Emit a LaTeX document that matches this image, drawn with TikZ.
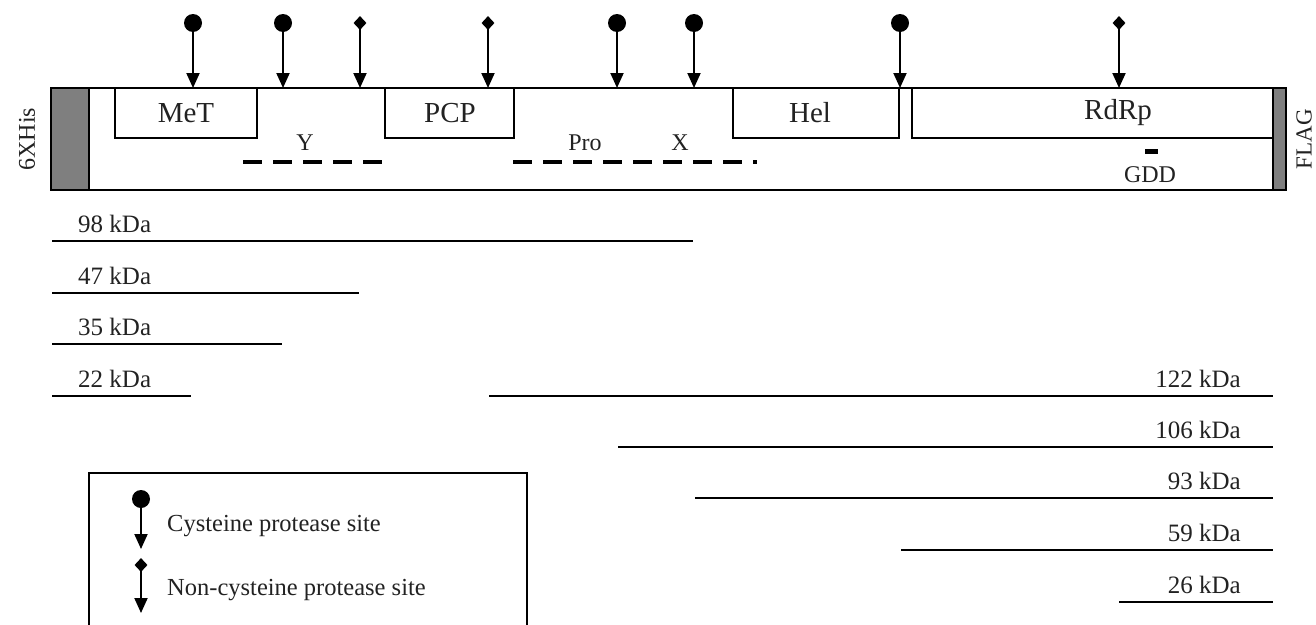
\documentclass[tikz,border=0pt]{standalone}
\usepackage{fontspec}
\setmainfont{Liberation Serif}
\usetikzlibrary{arrows.meta,shapes.geometric}
\definecolor{tagfill}{HTML}{7F7F7F}
\definecolor{txt}{HTML}{222222}
\begin{document}
\begin{tikzpicture}[x=1pt,y=-1pt,
  frame/.style={draw=black,line width=1.6pt},
  tagbox/.style={draw=black,line width=1.6pt,fill=tagfill},
  domlbl/.style={font=\fontsize{29}{32}\selectfont,text=txt,inner sep=0pt},
  smalllbl/.style={font=\fontsize{24}{28}\selectfont,text=txt,inner sep=0pt},
  kdalbl/.style={font=\fontsize{25}{28}\selectfont,text=txt,inner sep=0pt},
  leglbl/.style={font=\fontsize{24.5}{28}\selectfont,text=txt,inner sep=0pt,anchor=west},
  frag/.style={line width=2pt,draw=black},
  motif/.style={line width=4pt,dash pattern=on 19pt off 11pt},
  site/.style={line width=2pt,-{Triangle[width=13pt,length=15pt]}},
  cysmark/.style={circle,fill=black,inner sep=0pt,minimum size=18pt},
  noncysmark/.style={diamond,fill=black,inner sep=0pt,minimum width=13pt,minimum height=14pt},
]
\useasboundingbox (0,0) rectangle (1316,624);

% main construct
\draw[frame] (51,88) rectangle (1286,190);
\draw[tagbox] (51,88) rectangle (89,190);
\draw[tagbox] (1273,88) rectangle (1286,190);
\node[smalllbl,rotate=90] (his) at (27,139) {6XHis};
\node[smalllbl,rotate=90,font=\fontsize{23}{26}\selectfont] (flag) at (1304,139) {FLAG};

% domains
\draw[frame] (115,88) rectangle (257,138);
\node[domlbl] (met) at (186,113) {MeT};
\draw[frame] (385,88) rectangle (514,138);
\node[domlbl] (pcp) at (450,113) {PCP};
\draw[frame] (733,88) rectangle (899,138);
\node[domlbl] (hel) at (810,113) {Hel};
\draw[frame] (912,88) -- (912,138) -- (1273,138);
\node[domlbl] (rdrp) at (1118,113) {RdRp};

% motifs
\node[smalllbl] (y) at (305,143) {Y};
\draw[motif] (243,162) -- (383,162);
\node[smalllbl] (pro) at (585,143) {Pro};
\node[smalllbl] (x) at (680,143) {X};
\draw[motif] (513,162) -- (757,162);
\fill[black] (1145,149) rectangle (1158,154);
\node[smalllbl] (gdd) at (1150,175) {GDD};

% cleavage sites
\foreach \i/\xx/\kind in {1/193/cysmark,2/283/cysmark,3/360/noncysmark,4/488/noncysmark,
                          5/617/cysmark,6/694/cysmark,7/900/cysmark,8/1119/noncysmark}{
  \node[\kind] (s\i) at (\xx,23) {};
  \coordinate (t\i) at (\xx,88);
  \draw[site] (s\i.center) -- (t\i);
}

% cleavage products
\foreach \n/\xa/\xb/\yy in {98/52/693/241,47/52/359/293,35/52/282/344,22/52/191/396}{
  \coordinate (fa\n) at (\xa,\yy);
  \coordinate (fb\n) at (\xb,\yy);
  \draw[frag] (fa\n) -- (fb\n);
  \node[kdalbl,anchor=base west] (l\n) at (78,\yy-9) {\n\ kDa};
}
\foreach \n/\xa/\yy in {122/489/396,106/618/447,93/695/498,59/901/550,26/1119/602}{
  \coordinate (fa\n) at (\xa,\yy);
  \coordinate (fb\n) at (1273,\yy);
  \draw[frag] (fa\n) -- (fb\n);
  \node[kdalbl,anchor=base east] (l\n) at (1241,\yy-9) {\n\ kDa};
}

% legend
\draw[line width=1.6pt] (89,626) -- (89,473) -- (527,473) -- (527,626);
\node[cysmark] (lc) at (141,499) {};
\coordinate (lct) at (141,549);
\draw[site] (lc.center) -- (lct);
\node[leglbl] (lctext) at (167,526) {Cysteine protease site};
\node[noncysmark] (ln) at (141,565) {};
\coordinate (lnt) at (141,613);
\draw[site] (ln.center) -- (lnt);
\node[leglbl] (lntext) at (167,590) {Non-cysteine protease site};
\end{tikzpicture}
\end{document}
